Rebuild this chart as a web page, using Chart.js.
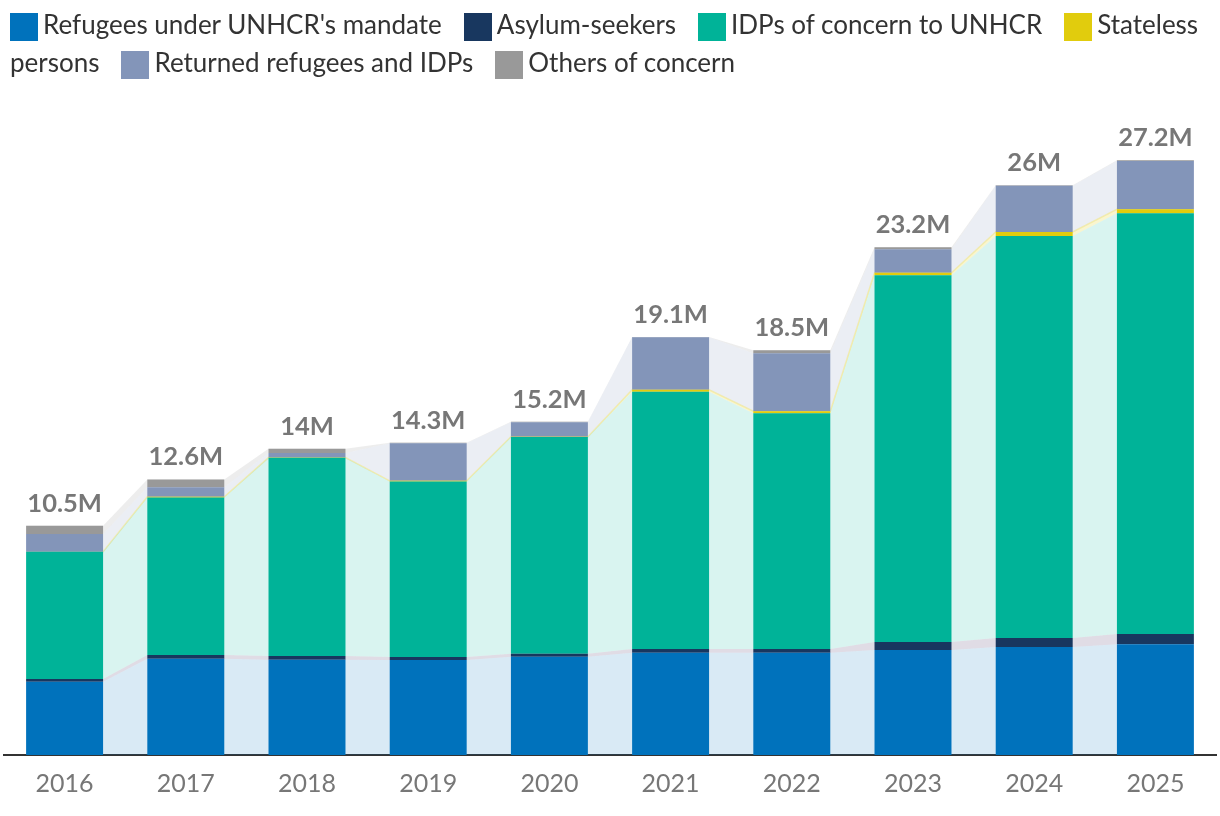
<!DOCTYPE html>
<html>
<head>
<meta charset="utf-8">
<script src="https://cdn.jsdelivr.net/npm/chart.js@4/dist/chart.umd.min.js"></script>
<style>
  html, body { margin: 0; padding: 0; background: #fff; }
  #wrap { position: relative; width: 1220px; height: 816px; overflow: hidden; }
  #chart { position: absolute; left: 0; top: 0; }
  #legend { position: absolute; left: 10px; top: 5px; width: 1200px; font: 26px Lato, sans-serif; color: #333; line-height: 38px; }
  #legend .item { margin-right: 22px; }
  #legend .box { display: inline-block; width: 28px; height: 28px; vertical-align: -7px; margin-right: 5px; }
</style>
</head>
<body>
<div id="wrap">
  <canvas id="chart" width="1220" height="816"></canvas>
  <div id="legend"></div>
</div>
<script>
// ---- Data (values in millions) ----
const years = ['2016', '2017', '2018', '2019', '2020', '2021', '2022', '2023', '2024', '2025'];
const refugees  = [3.35, 4.40, 4.36, 4.34, 4.49, 4.68, 4.68, 4.80, 4.94, 5.07];
const asylum    = [0.12, 0.17, 0.17, 0.14, 0.14, 0.17, 0.17, 0.37, 0.41, 0.46];
const idps      = [5.82, 7.21, 9.06, 8.03, 9.91, 11.76, 10.78, 16.77, 18.38, 19.25];
const stateless = [0.01, 0.03, 0.01, 0.03, 0.01, 0.09, 0.09, 0.11, 0.19, 0.18];
const returned  = [0.81, 0.44, 0.21, 1.72, 0.67, 2.41, 2.65, 1.08, 2.11, 2.21];
const others    = [0.37, 0.35, 0.19, 0.02, 0.02, 0.01, 0.14, 0.09, 0.02, 0.03];
const totalLabels = ['10.5M', '12.6M', '14M', '14.3M', '15.2M', '19.1M', '18.5M', '23.2M', '26M', '27.2M'];

const seriesNames = ["Refugees under UNHCR's mandate", 'Asylum-seekers', 'IDPs of concern to UNHCR', 'Stateless persons', 'Returned refugees and IDPs', 'Others of concern'];
const seriesValues = [refugees, asylum, idps, stateless, returned, others];
const seriesColors = ['#0072bc', '#18375f', '#00b398', '#e1cc0d', '#8395b9', '#999999'];
const areaColors = ['rgba(0,114,188,0.15)', 'rgba(60,40,95,0.16)', 'rgba(0,179,152,0.15)', 'rgba(225,204,13,0.2)', 'rgba(131,149,185,0.16)', 'rgba(153,153,153,0.18)'];

const barFrac = 0.635;
const half = barFrac / 2;

// bar datasets
const datasets = seriesNames.map((name, k) => ({
  type: 'bar',
  label: name,
  data: seriesValues[k],
  backgroundColor: seriesColors[k],
  borderWidth: 0,
  stack: 's',
  grouped: false,
  order: 1,
  xAxisID: 'x',
  yAxisID: 'y'
}));

// connecting area datasets (cumulative levels, edge-to-edge between bars)
const nBars = datasets.length;
seriesValues.forEach((vals, k) => {
  const pts = [];
  years.forEach((yr, i) => {
    let cum = 0;
    for (let j = 0; j <= k; j++) cum += seriesValues[j][i];
    pts.push({ x: i - half, y: cum });
    pts.push({ x: i + half, y: cum });
  });
  datasets.push({
    type: 'line',
    label: 'area-' + k,
    data: pts,
    xAxisID: 'xl',
    yAxisID: 'yl',
    stack: 's',
    backgroundColor: areaColors[k],
    borderColor: k === 3 ? 'rgba(240,230,140,0.6)' : 'rgba(0,0,0,0)',
    borderWidth: k === 3 ? 1.5 : 1,
    pointRadius: 0,
    tension: 0,
    fill: k === 0 ? 'origin' : '-1',
    order: 10
  });
});

const totalsPlugin = {
  id: 'totals',
  afterDatasetsDraw(chart) {
    const ctx = chart.ctx;
    const xs = chart.scales.x, ys = chart.scales.y;
    ctx.save();
    ctx.font = 'bold 25.5px Lato, sans-serif';
    ctx.fillStyle = '#777777';
    ctx.textAlign = 'center';
    ctx.textBaseline = 'alphabetic';
    years.forEach((yr, i) => {
      let sum = 0;
      seriesValues.forEach(v => sum += v[i]);
      ctx.fillText(totalLabels[i], xs.getPixelForValue(i), ys.getPixelForValue(sum) - 14);
    });
    ctx.restore();
  }
};

const chart = new Chart(document.getElementById('chart'), {
  data: { labels: years, datasets: datasets },
  options: {
    responsive: false,
    devicePixelRatio: 1,
    animation: false,
    layout: { padding: { top: 99, left: 4, right: 4, bottom: 0 } },
    datasets: { bar: { categoryPercentage: 1, barPercentage: barFrac } },
    plugins: { legend: { display: false }, tooltip: { enabled: false } },
    scales: {
      x: {
        type: 'category',
        stacked: true,
        offset: true,
        grid: { display: true, color: 'rgba(0,0,0,0)', drawTicks: false },
        border: { display: true, color: '#333333', width: 2 },
        ticks: { color: '#777777', font: { family: 'Lato', size: 25 }, padding: 14 },
        afterFit(scale) { scale.height = 61; }
      },
      y: { stacked: true, min: 0, max: 30, display: false },
      xl: { type: 'linear', min: -0.5, max: 9.5, display: false },
      yl: { type: 'linear', min: 0, max: 30, display: false, stacked: false }
    }
  },
  plugins: [totalsPlugin]
});

// HTML legend (wraps like the original)
const legendEl = document.getElementById('legend');
legendEl.innerHTML = chart.data.datasets.slice(0, nBars).map(ds =>
  '<span class="item"><span class="box" style="background:' + ds.backgroundColor + '"></span>' + ds.label.replace(/'/g, '&#39;') + '</span>'
).join('');
</script>
</body>
</html>
